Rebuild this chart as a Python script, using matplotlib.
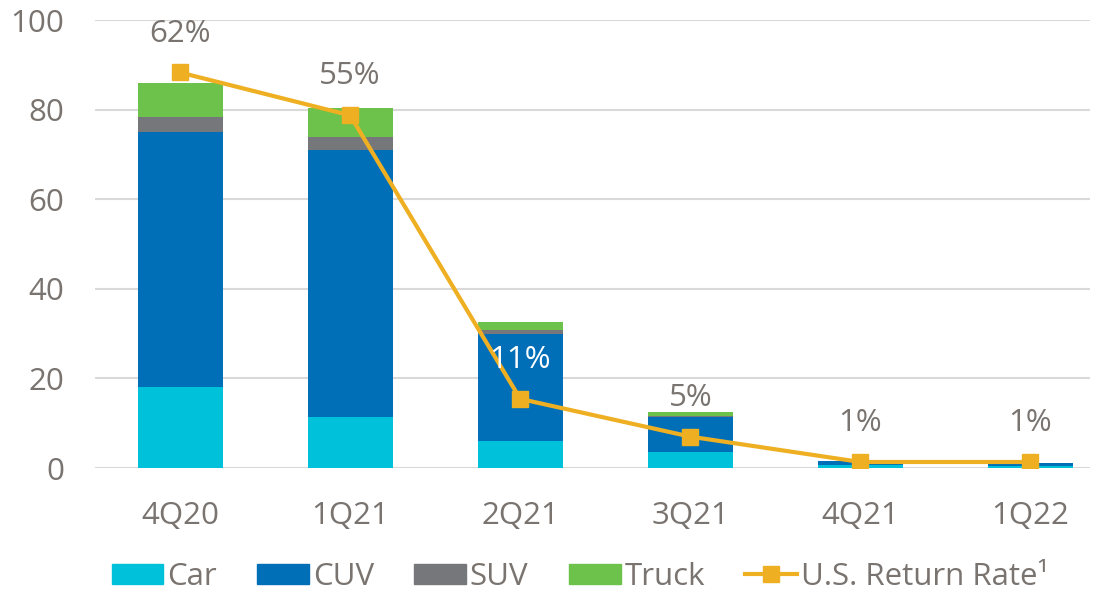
import matplotlib.pyplot as plt
from matplotlib.patches import Patch
from matplotlib.lines import Line2D
import numpy as np

plt.rcParams['font.family'] = ['Open Sans', 'DejaVu Sans']

quarters = ['4Q20', '1Q21', '2Q21', '3Q21', '4Q21', '1Q22']
car = [18.0, 11.3, 6.1, 3.6, 0.6, 0.4]
cuv = [56.9, 59.6, 23.7, 7.7, 0.9, 0.7]
suv = [3.4, 3.0, 1.1, 0.4, 0.05, 0.05]
truck = [7.6, 6.5, 1.8, 0.7, 0.05, 0.05]
return_rate = [61.8, 55.1, 10.8, 4.9, 0.94, 0.94]
rate_labels = ['62%', '55%', '11%', '5%', '1%', '1%']

colors = {'Car': '#00C1DA', 'CUV': '#006FB8', 'SUV': '#76777B', 'Truck': '#6CC24A'}
line_color = '#EEB022'
text_color = '#7A7470'
fs = 22.5

fig = plt.figure(figsize=(11.04, 5.9), dpi=100)
ax = fig.add_axes([95 / 1104, 122 / 590, (1090 - 95) / 1104, 448 / 590])

x = np.arange(len(quarters))
bottom = np.zeros(len(quarters))
for name, vals in [('Car', car), ('CUV', cuv), ('SUV', suv), ('Truck', truck)]:
    ax.bar(x, vals, width=0.5, bottom=bottom, color=colors[name], zorder=2)
    bottom += np.array(vals)

ax.set_ylim(0, 100)
ax.set_xlim(-0.5, 5.35)
ax.set_yticks(range(0, 101, 20))
ax.set_xticks(x)
ax.set_xticklabels(quarters)
ax.grid(axis='y', color='#D9D9D9', linewidth=1.5, zorder=0)
ax.set_axisbelow(True)
for s in ax.spines.values():
    s.set_visible(False)
ax.tick_params(axis='both', length=0, labelsize=fs, colors=text_color)
ax.tick_params(axis='y', pad=22)
ax.tick_params(axis='x', pad=24)

# return rate on its own hidden scale
ax2 = ax.twinx()
ax2.set_ylim(0, 70)
ax2.plot(x, return_rate, color=line_color, linewidth=3, marker='s',
         markersize=11, zorder=3)
ax2.axis('off')
for i, (v, lab) in enumerate(zip(return_rate, rate_labels)):
    c = 'white' if lab == '11%' else text_color
    ax2.annotate(lab, (x[i], v), xytext=(0, 28), textcoords='offset points',
                 ha='center', va='center', fontsize=fs, color=c)

handles = [Patch(color=colors[n]) for n in ['Car', 'CUV', 'SUV', 'Truck']]
handles.append(Line2D([], [], color=line_color, linewidth=3, marker='s', markersize=11))
leg = fig.legend(handles, ['Car', 'CUV', 'SUV', 'Truck', 'U.S. Return Rate¹'],
                 loc='center', bbox_to_anchor=(580 / 1104, 1 - 577 / 590), ncol=5,
                 frameon=False, fontsize=fs, handlelength=1.65, handleheight=0.65,
                 handletextpad=0.12, columnspacing=1.3, borderaxespad=0)
for t in leg.get_texts():
    t.set_color(text_color)

fig.savefig('out.png', dpi=100)
